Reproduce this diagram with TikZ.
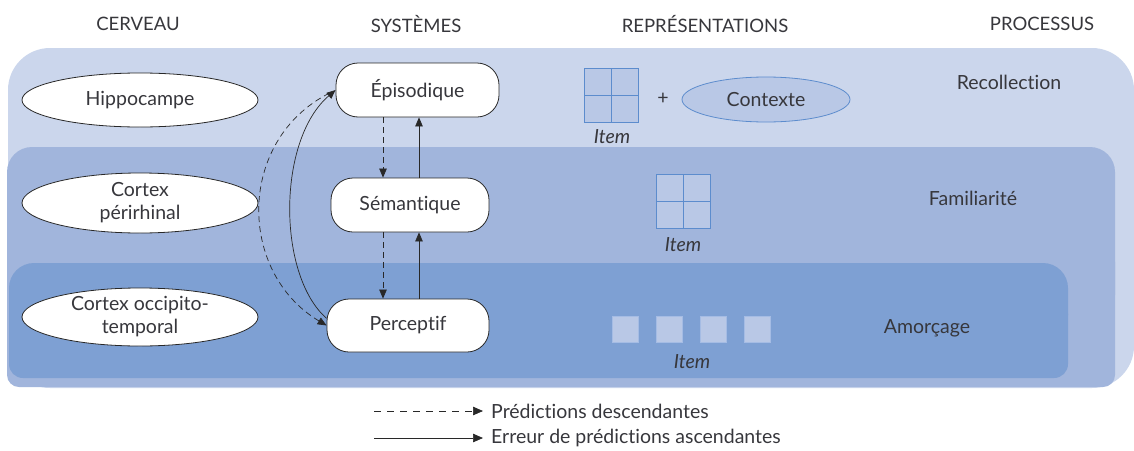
\documentclass[tikz,border=0pt]{standalone}
\usepackage{fontspec}
\setmainfont{Lato}[RawFeature={-liga;-clig;-dlig}]
\usetikzlibrary{arrows.meta,shapes.geometric}
\definecolor{bandA}{RGB}{203,214,236}
\definecolor{bandB}{RGB}{161,181,220}
\definecolor{bandC}{RGB}{126,160,211}
\definecolor{gridfill}{RGB}{185,200,230}
\definecolor{gridline}{RGB}{92,140,205}
\definecolor{sqline}{RGB}{165,188,228}
\definecolor{txt}{RGB}{55,55,60}
\definecolor{edgecol}{RGB}{40,40,40}
\tikzset{
  mainfont/.style={font=\fontsize{19.5}{23}\selectfont},
  headfont/.style={font=\fontsize{18.5}{22}\selectfont},
  brain/.style={ellipse, draw=edgecol, line width=0.8pt, fill=white, minimum width=236pt, inner sep=0pt, align=center, mainfont, text=txt},
  sysbox/.style={rectangle, rounded corners=22pt, draw=edgecol, line width=0.8pt, fill=white, minimum height=54pt, inner sep=0pt, mainfont, text=txt},
  procname/.style={mainfont, text=txt},
  headname/.style={headfont, text=txt},
  itemlab/.style={font=\fontsize{19.5}{23}\selectfont\itshape, text=txt, inner sep=0pt},
  grid4/.style={rectangle, draw=gridline, line width=0.7pt, fill=gridfill, minimum size=54pt, inner sep=0pt,
    path picture={\draw[gridline, line width=0.7pt] (path picture bounding box.north) -- (path picture bounding box.south)
      (path picture bounding box.west) -- (path picture bounding box.east);}},
  smallsq/.style={rectangle, draw=sqline, line width=0.7pt, fill=gridfill, minimum size=26pt, inner sep=0pt},
  ctx/.style={ellipse, draw=gridline, line width=0.8pt, fill=gridfill, minimum width=168pt, minimum height=45pt, inner sep=0pt, mainfont, text=txt},
  tip/.style={-{Triangle[length=9pt,width=7.5pt]}},
  predline/.style={tip, draw=edgecol, line width=0.7pt, dash pattern=on 6pt off 4pt},
  errline/.style={tip, draw=edgecol, line width=0.7pt},
  legtip/.style={-{Triangle[length=10pt,width=8.5pt]}, draw=edgecol, line width=0.7pt, shorten >=8pt},
}
\begin{document}
\begin{tikzpicture}[x=1pt,y=-1pt]
\useasboundingbox (0,0) rectangle (1134,450);
% bands
\fill[bandA, rounded corners=42pt] (8,48) rectangle (1134,388);
\fill[bandB, rounded corners=25pt] (7,147) rectangle (1115,320);
\fill[bandB, rounded corners=12pt] (7,250) rectangle (1115,387);
\fill[bandC, rounded corners=25pt] (9,263) rectangle (1068,340);
\fill[bandC, rounded corners=14pt] (9,300) rectangle (1068,378);
% headers
\node[headname] (hC) at (138,24) {CERVEAU};
\node[headname] (hS) at (416,24) {SYSTÈMES};
\node[headname] (hR) at (705,24) {REPRÉSENTATIONS};
\node[headname] (hP) at (1042,24) {PROCESSUS};
% brain ellipses
\node[brain, minimum height=54pt] (hip) at (140,100) {Hippocampe};
\node[brain, minimum height=60pt] (per) at (140,203) {Cortex\\périrhinal};
\node[brain, minimum height=58pt] (occ) at (140,317) {Cortex occipito-\\temporal};
% system boxes
\node[sysbox, minimum width=163pt] (ep) at (417.5,90) {Épisodique};
\node[sysbox, minimum width=158pt] (sem) at (410,205) {Sémantique};
\node[sysbox, minimum width=162pt, minimum height=53pt] (pe) at (408,325.5) {Perceptif};
% arrow x positions
\coordinate (xd) at (383,0);
\coordinate (xu) at (419,0);
\draw[predline] (ep.south -| xd) -- (sem.north -| xd);
\draw[predline] (sem.south -| xd) -- (pe.north -| xd);
\draw[errline] (sem.north -| xu) -- (ep.south -| xu);
\draw[errline] (pe.north -| xu) -- (sem.south -| xu);
% curved arrows
\draw[predline, shorten <=7pt] (ep.west) .. controls (237,140) and (237,272) .. (pe.west);
\draw[errline] (pe.175) .. controls (277,275) and (277,140) .. (ep.west);
% representations
\node[grid4] (g1) at (611,95) {};
\node[itemlab] (i1) at (612,137) {Item};
\node[mainfont, text=txt] (plus) at (663,99) {+};
\node[ctx] (ctxt) at (766,99.5) {Contexte};
\node[grid4] (g2) at (683,201) {};
\node[itemlab] (i2) at (683,245) {Item};
\node[smallsq] (s1) at (625,329) {};
\node[smallsq] (s2) at (669,329) {};
\node[smallsq] (s3) at (713,329) {};
\node[smallsq] (s4) at (757,329) {};
\node[itemlab] (i3) at (692,362) {Item};
% processes
\node[procname] (rec) at (1009,82) {Recollection};
\node[procname] (fam) at (973,198) {Familiarité};
\node[procname] (amo) at (927,328) {Amorçage};
% legend
\node[procname, anchor=west, inner sep=0pt] (l1) at (491,411) {Prédictions descendantes};
\node[procname, anchor=west, inner sep=0pt] (l2) at (491,438) {Erreur de prédictions ascendantes};
\coordinate (l1s) at (374,411);
\coordinate (l2s) at (374,438);
\draw[legtip, dash pattern=on 7pt off 6pt] (l1s) -- (l1.west);
\draw[legtip] (l2s) -- (l2.west);
\end{tikzpicture}
\end{document}
